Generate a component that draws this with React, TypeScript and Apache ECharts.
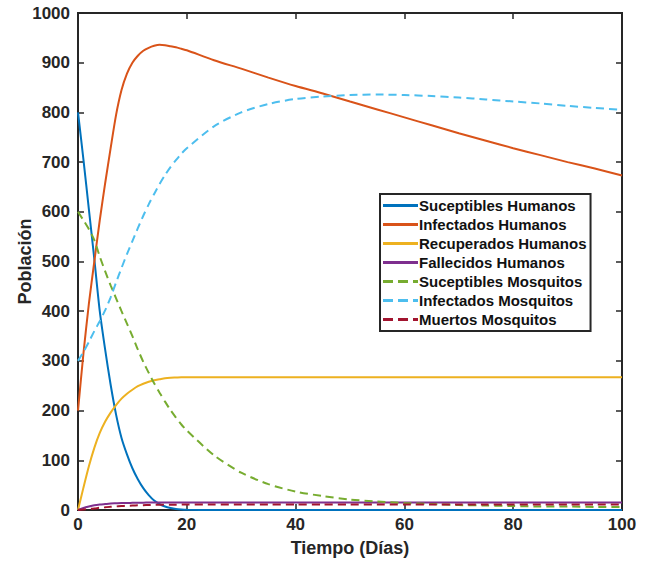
import React, { useEffect, useRef } from "react";
import * as echarts from "echarts";

const days = [0, 1, 2, 3, 4, 5, 6, 7, 8, 9, 10, 11, 12, 13, 14, 15, 16, 17, 18, 19, 20, 25, 30, 35, 40, 45, 50, 55, 60, 65, 70, 75, 80, 85, 90, 95, 100];

const susceptibleHumans = [800, 705, 605, 505, 400, 322, 252, 192, 145, 112, 84, 62, 44, 30, 19, 12, 7, 4, 2, 1, 0.5, 0, 0, 0, 0, 0, 0, 0, 0, 0, 0, 0, 0, 0, 0, 0, 0];
const infectedHumans = [200, 315, 415, 500, 583, 658, 728, 795, 845, 878, 900, 914, 924, 930, 934, 936, 935, 933, 931, 928, 925, 905, 888, 870, 853, 838, 822, 806, 790, 774, 758, 743, 728, 714, 700, 687, 673];
const recoveredHumans = [0, 45, 88, 125, 155, 178, 196, 211, 224, 234, 242, 249, 254, 258, 261, 263, 265, 266, 266.5, 267, 267, 267, 267, 267, 267, 267, 267, 267, 267, 267, 267, 267, 267, 267, 267, 267, 267];
const deadHumans = [0, 4, 7, 9.5, 11, 12, 13, 13.5, 14, 14, 14.5, 14.6, 14.8, 14.9, 15, 15, 15, 15, 15, 15, 15, 15, 15, 15, 15, 15, 15, 15, 15, 15, 15, 15, 15, 15, 15, 15, 15];
const susceptibleMosquitoes = [600, 583, 565, 543, 510, 480, 452, 426, 400, 375, 350, 323, 298, 276, 255, 236, 218, 201, 186, 172, 160, 110, 75, 52, 37, 28, 21, 17, 14, 12, 10, 9, 8, 7, 7, 6, 6];
const infectedMosquitoes = [300, 318, 338, 360, 380, 402, 428, 458, 487, 515, 541, 567, 592, 615, 636, 656, 674, 690, 704, 717, 728, 772, 800, 817, 827, 832, 835, 836, 835, 833, 830, 826, 822, 818, 813, 809, 805];
const deadMosquitoes = [0, 1, 2, 3, 4.5, 5.5, 6.5, 7.2, 8, 8.5, 9, 9.4, 9.8, 10, 10.3, 10.5, 10.6, 10.7, 10.8, 10.9, 11, 11, 11, 11, 11, 11, 11, 11, 11, 11, 11, 11, 11, 11, 11, 11, 11];

const seriesNames = [
  "Suceptibles Humanos",
  "Infectados Humanos",
  "Recuperados Humanos",
  "Fallecidos Humanos",
  "Suceptibles Mosquitos",
  "Infectados Mosquitos",
  "Muertos Mosquitos",
];
const seriesValues = [
  susceptibleHumans,
  infectedHumans,
  recoveredHumans,
  deadHumans,
  susceptibleMosquitoes,
  infectedMosquitoes,
  deadMosquitoes,
];
const seriesColors = ["#0072BD", "#D95319", "#EDB120", "#7E2F8E", "#77AC30", "#4DBEEE", "#A2142F"];
const seriesDashed = [false, false, false, false, true, true, true];

const xTitle = "Tiempo (Días)";
const yTitle = "Población";

const SOLID_ICON = "path://M0,0h35v3h-35z";
const DASH_ICON = "path://M0,0h10v3h-10z M15,0h10v3h-10z M30,0h5v3h-5z";

export default function App() {
  const ref = useRef<HTMLDivElement>(null);
  useEffect(() => {
    if (!ref.current) return;
    const chart = echarts.init(ref.current, null, { renderer: "svg" });
    const axisColor = "#262626";
    const font = "Liberation Sans, Arial, sans-serif";
    const series = seriesNames.map((name, i) => ({
      name,
      type: "line",
      data: days.map((d, j) => [d, seriesValues[i][j]]),
      showSymbol: false,
      symbol: "none",
      smooth: 0.25,
      lineStyle: {
        color: seriesColors[i],
        width: 2,
        type: seriesDashed[i] ? [8, 5] : "solid",
      },
      itemStyle: { color: seriesColors[i] },
      z: 3,
    }));
    chart.setOption({
      animation: false,
      backgroundColor: "#ffffff",
      grid: {
        left: 78,
        right: 24,
        top: 13,
        bottom: 53,
        outerBoundsMode: "none",
        containLabel: false,
        show: true,
        borderColor: axisColor,
        borderWidth: 2,
        backgroundColor: "transparent",
      },
      legend: {
        orient: "vertical",
        left: 380,
        top: 194,
        padding: [4, 4, 4, 3],
        itemWidth: 35,
        itemHeight: 3,
        itemGap: 4,
        borderColor: axisColor,
        borderWidth: 2,
        backgroundColor: "#ffffff",
        textStyle: {
          fontFamily: font,
          fontWeight: "bold",
          fontSize: 15,
          color: "#111111",
          padding: [0, 0, 0, -4],
          lineHeight: 15,
        },
        data: seriesNames.map((n, i) => ({
          name: n,
          icon: seriesDashed[i] ? DASH_ICON : SOLID_ICON,
          itemStyle: { color: seriesColors[i] },
        })),
      },
      xAxis: [
        {
          type: "value",
          min: 0,
          max: 100,
          interval: 20,
          name: xTitle,
          nameLocation: "middle",
          nameGap: 29,
          nameMoveOverlap: false,
          nameTextStyle: { fontFamily: font, fontWeight: "bold", fontSize: 18, color: axisColor },
          axisLine: { show: true, onZero: false, lineStyle: { color: axisColor, width: 2 } },
          axisTick: { show: true, inside: true, length: 6, lineStyle: { color: axisColor, width: 1.5 } },
          axisLabel: { fontFamily: font, fontWeight: "bold", fontSize: 17, color: axisColor, margin: 6 },
          splitLine: { show: false },
        },
        {
          type: "value",
          position: "top",
          min: 0,
          max: 100,
          interval: 20,
          axisLine: { show: true, onZero: false, lineStyle: { color: axisColor, width: 2 } },
          axisTick: { show: true, inside: true, length: 6, lineStyle: { color: axisColor, width: 1.5 } },
          axisLabel: { show: false },
          splitLine: { show: false },
        },
      ],
      yAxis: [
        {
          type: "value",
          min: 0,
          max: 1000,
          interval: 100,
          name: yTitle,
          nameLocation: "middle",
          nameGap: 44,
          nameMoveOverlap: false,
          nameTextStyle: { fontFamily: font, fontWeight: "bold", fontSize: 18, color: axisColor },
          axisLine: { show: true, onZero: false, lineStyle: { color: axisColor, width: 2 } },
          axisTick: { show: true, inside: true, length: 6, lineStyle: { color: axisColor, width: 1.5 } },
          axisLabel: {
            fontFamily: font,
            fontWeight: "bold",
            fontSize: 17,
            color: axisColor,
            margin: 8,
            formatter: (v: number) => String(v),
          },
          splitLine: { show: false },
        },
        {
          type: "value",
          position: "right",
          min: 0,
          max: 1000,
          interval: 100,
          axisLine: { show: true, onZero: false, lineStyle: { color: axisColor, width: 2 } },
          axisTick: { show: true, inside: true, length: 6, lineStyle: { color: axisColor, width: 1.5 } },
          axisLabel: { show: false },
          splitLine: { show: false },
        },
      ],
      series,
    });
    return () => chart.dispose();
  }, []);
  return (
    <div
      ref={ref}
      style={{ position: "fixed", left: 0, top: 0, width: 646, height: 563, background: "#fff" }}
    />
  );
}
